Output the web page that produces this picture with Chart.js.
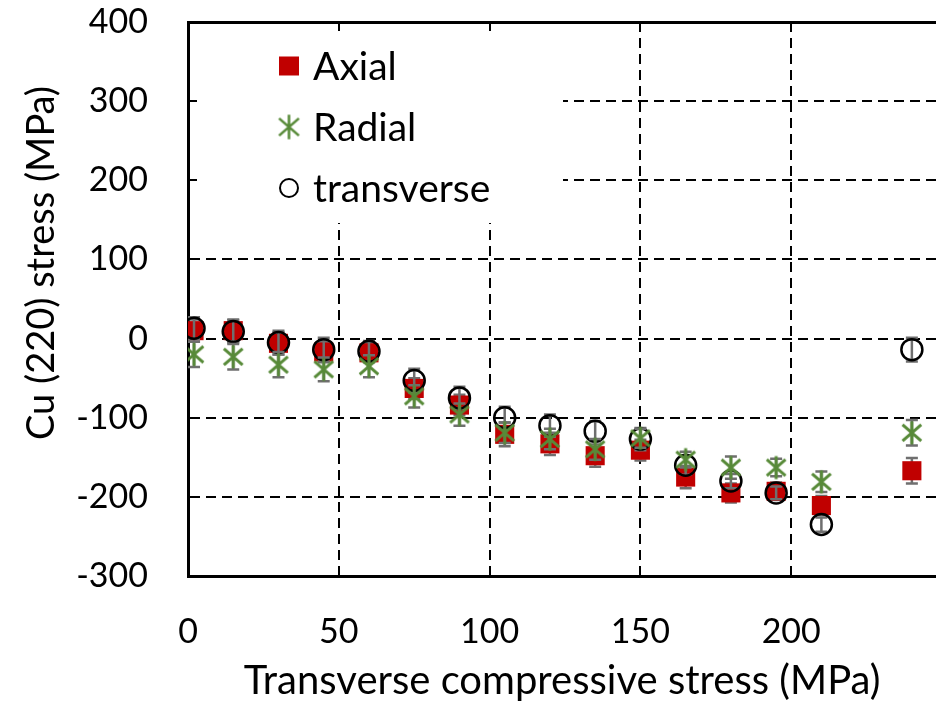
<!DOCTYPE html>
<html>
<head>
<meta charset="utf-8">
<script src="https://cdn.jsdelivr.net/npm/chart.js@4/dist/chart.umd.min.js"></script>
<style>
  html, body { margin: 0; padding: 0; background: #ffffff; overflow: hidden; }
  #wrap { width: 936px; height: 701px; position: relative; }
</style>
</head>
<body>
<div id="wrap"><canvas id="c" width="936" height="701"></canvas></div>
<script>
// Applied transverse compressive stress (MPa)
const loadSteps = [2, 15, 30, 45, 60, 75, 90, 105, 120, 135, 150, 165, 180, 195, 210, 240];

// Cu (220) lattice stress, MPa, per measurement direction
const axialStress      = [10, 10, -6, -17, -18, -63, -84, -121, -133, -148, -141, -175, -195, -193, -211, -167];
const radialStress     = [-20, -23, -33, -39, -35, -73, -96, -119, -127, -140, -126, -153, -163, -163, -181, -119];
const transverseStress = [13, 9, -5, -14, -16, -53, -75, -100, -110, -117, -127, -160, -180, -195, -235, -14];

// Measurement uncertainty (+/- MPa)
const axialErr      = [14, 14, 14, 13, 12, 13, 13, 15, 14, 14, 13, 14, 12, 11, 12, 16];
const radialErr     = [16, 16, 16, 15, 14, 14, 14, 13, 13, 13, 12, 10, 14, 11, 13, 16];
const transverseErr = [14, 14, 15, 15, 13, 15, 14, 14, 14, 13, 14, 12, 9, 8, 9, 15];

// Axis ticks and titles
const xTickValues = [0, 50, 100, 150, 200];
const yTickValues = [-300, -200, -100, 0, 100, 200, 300, 400];
const xTitle = 'Transverse compressive stress (MPa)';
const yTitle = 'Cu (220) stress (MPa)';

const FONT_FAMILY = 'Lato, "Open Sans", "DejaVu Sans", sans-serif';
const RED = '#C00000';
const GREEN = '#578A38';
const CLEAR = 'rgba(0,0,0,0)';

// Six-spoke asterisk marker (an X with a vertical stroke)
function asteriskMarker(size, color, lineWidth) {
  const cv = document.createElement('canvas');
  cv.width = size; cv.height = size;
  const g = cv.getContext('2d');
  const c = size / 2, r = size / 2 - lineWidth / 2;
  const d = r * Math.SQRT1_2;
  g.strokeStyle = color;
  g.lineWidth = lineWidth;
  g.lineCap = 'butt';
  g.beginPath();
  g.moveTo(c - d * 1.15, c - d); g.lineTo(c + d * 1.15, c + d);
  g.moveTo(c - d * 1.15, c + d); g.lineTo(c + d * 1.15, c - d);
  g.moveTo(c, c - r); g.lineTo(c, c + r);
  g.stroke();
  return cv;
}

const radialMarker = asteriskMarker(26, GREEN, 3);
const radialLegendMarker = asteriskMarker(27, GREEN, 2.6);

function toPoints(xs, ys) {
  return xs.map((x, i) => ({ x: x, y: ys[i] }));
}

// Vertical error bars with caps, drawn just beneath each series' markers
const errorBarPlugin = {
  id: 'errorBars',
  beforeDatasetDraw(chart, args, opts) {
    const ds = chart.data.datasets[args.index];
    if (!ds.errors) return;
    const { ctx, scales: { x, y } } = chart;
    ctx.save();
    ctx.strokeStyle = opts.color;
    ctx.lineWidth = opts.width;
    ds.data.forEach((p, i) => {
      const e = ds.errors[i];
      const px = x.getPixelForValue(p.x);
      const top = y.getPixelForValue(p.y + e);
      const bot = y.getPixelForValue(p.y - e);
      ctx.beginPath();
      ctx.moveTo(px, top); ctx.lineTo(px, bot);
      ctx.moveTo(px - opts.cap, top); ctx.lineTo(px + opts.cap, top);
      ctx.moveTo(px - opts.cap, bot); ctx.lineTo(px + opts.cap, bot);
      ctx.stroke();
    });
    ctx.restore();
  }
};

// Legend box inside the plot area (white panel over the grid)
const insetLegendPlugin = {
  id: 'insetLegend',
  beforeDatasetsDraw(chart, args, opts) {
    const { ctx, chartArea } = chart;
    const left = chartArea.left + opts.boxLeft;
    const top = chartArea.top + opts.boxTop;
    ctx.save();
    ctx.fillStyle = '#ffffff';
    ctx.fillRect(left, top, opts.boxWidth, opts.boxHeight);
    ctx.font = opts.fontSize + 'px ' + FONT_FAMILY;
    ctx.textBaseline = 'middle';
    ctx.textAlign = 'left';
    chart.data.datasets.forEach((ds, i) => {
      const cy = chartArea.top + opts.firstRow + i * opts.rowGap;
      const mx = chartArea.left + opts.markerX;
      if (ds.legendMarker === 'square') {
        ctx.fillStyle = ds.backgroundColor;
        ctx.fillRect(mx - 10, cy - 9.5, 20, 19);
      } else if (ds.legendMarker === 'asterisk') {
        ctx.drawImage(radialLegendMarker, mx - 13.5, cy - 13.5);
      } else {
        ctx.strokeStyle = '#000000';
        ctx.lineWidth = 2;
        ctx.beginPath();
        ctx.arc(mx, cy, 9, 0, Math.PI * 2);
        ctx.stroke();
      }
      ctx.fillStyle = '#000000';
      ctx.fillText(ds.label, chartArea.left + opts.textX, cy + 1);
    });
    ctx.restore();
  }
};

// Rotated value-axis title, set a little above the middle of the axis
const yTitlePlugin = {
  id: 'yTitle',
  afterDraw(chart, args, opts) {
    const { ctx, chartArea } = chart;
    ctx.save();
    ctx.translate(opts.x, chartArea.top + opts.offsetY);
    ctx.rotate(-Math.PI / 2);
    ctx.font = opts.fontSize + 'px ' + FONT_FAMILY;
    ctx.fillStyle = '#000000';
    ctx.textAlign = 'center';
    ctx.textBaseline = 'middle';
    ctx.fillText(opts.text, 0, 0);
    ctx.restore();
  }
};

const tickFont = { family: FONT_FAMILY, size: 34 };

new Chart(document.getElementById('c'), {
  type: 'scatter',
  data: {
    datasets: [
      {
        label: 'Axial',
        data: toPoints(loadSteps, axialStress),
        errors: axialErr,
        legendMarker: 'square',
        pointStyle: 'rect',
        pointRadius: 13.5,
        backgroundColor: RED,
        borderColor: RED,
        borderWidth: 0,
        order: 3
      },
      {
        label: 'Radial',
        data: toPoints(loadSteps, radialStress),
        errors: radialErr,
        legendMarker: 'asterisk',
        pointStyle: radialMarker,
        pointRadius: 13,
        backgroundColor: GREEN,
        borderColor: GREEN,
        order: 1
      },
      {
        label: 'transverse',
        data: toPoints(loadSteps, transverseStress),
        errors: transverseErr,
        legendMarker: 'circle',
        pointStyle: 'circle',
        pointRadius: 10.5,
        backgroundColor: CLEAR,
        borderColor: '#000000',
        borderWidth: 2.5,
        order: 2
      }
    ]
  },
  options: {
    responsive: false,
    devicePixelRatio: 1,
    animation: false,
    events: [],
    layout: { autoPadding: false, padding: { left: 0, right: 0, top: 22, bottom: 0 } },
    plugins: {
      legend: { display: false },
      tooltip: { enabled: false },
      errorBars: { color: '#6f6f6f', width: 2.5, cap: 6 },
      insetLegend: {
        boxLeft: 9, boxTop: 9, boxWidth: 366, boxHeight: 192,
        markerX: 101, textX: 125,
        firstRow: 44, rowGap: 61, fontSize: 39
      },
      yTitle: { text: yTitle, x: 42, offsetY: 241, fontSize: 38 }
    },
    scales: {
      x: {
        type: 'linear',
        min: 0,
        max: 248,
        afterBuildTicks: (s) => { s.ticks = xTickValues.map(v => ({ value: v })); },
        afterFit: (s) => { s.height = 125; s.paddingLeft = 0; s.paddingRight = 0; },
        grid: {
          drawTicks: false,
          lineWidth: 2,
          color: (c) => (c.tick && c.tick.value === 0 ? CLEAR : '#000000')
        },
        border: { display: true, color: '#000000', width: 3, dash: [10, 6] },
        ticks: { font: tickFont, color: '#000000', padding: 36, maxRotation: 0 },
        title: {
          display: true,
          text: xTitle,
          font: { family: FONT_FAMILY, size: 40, lineHeight: 1 },
          color: '#000000',
          padding: { top: 0, bottom: 0 }
        }
      },
      y: {
        type: 'linear',
        min: -300,
        max: 400,
        afterBuildTicks: (s) => { s.ticks = yTickValues.map(v => ({ value: v })); },
        afterFit: (s) => { s.width = 188; s.paddingTop = 0; s.paddingBottom = 0; },
        grid: {
          drawTicks: false,
          lineWidth: (c) => (c.tick && c.tick.value === 400 ? 3 : 2),
          color: (c) => (c.tick && c.tick.value === -300 ? CLEAR : '#000000')
        },
        border: {
          display: true, color: '#000000', width: 3,
          dash: (c) => (c.tick && c.tick.value === 400 ? [] : [10, 6])
        },
        ticks: { font: tickFont, color: '#000000', padding: 40 },
        title: { display: false }
      }
    }
  },
  plugins: [errorBarPlugin, insetLegendPlugin, yTitlePlugin]
});
</script>
</body>
</html>
